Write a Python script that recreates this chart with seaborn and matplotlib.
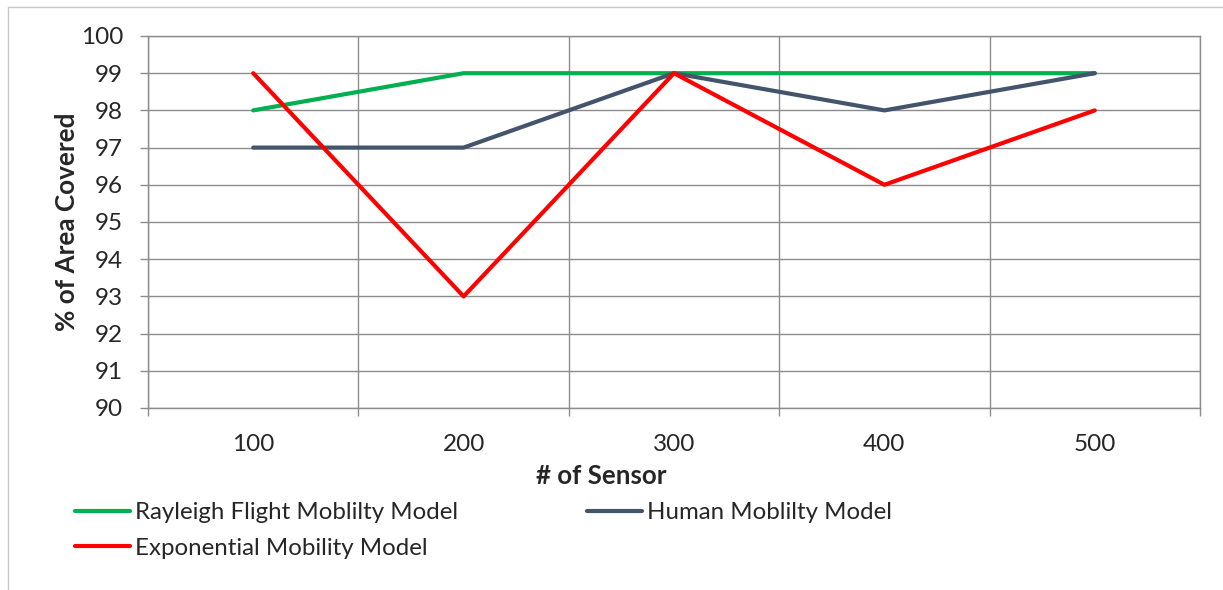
import matplotlib
matplotlib.use("Agg")
import matplotlib.pyplot as plt
import seaborn as sns
import pandas as pd
from matplotlib.lines import Line2D

sensors = [100, 200, 300, 400, 500]
rayleigh = [98, 99, 99, 99, 99]
human = [97, 97, 99, 98, 99]
exponential = [99, 93, 99, 96, 98]
series_names = ["Rayleigh Flight Moblilty Model", "Human Moblilty Model", "Exponential Mobility Model"]
colors = ["#00B050", "#44546A", "#FF0000"]

sns.set_theme(style="white")
plt.rcParams['font.family'] = ['Lato', 'DejaVu Sans']

df = pd.DataFrame({
    "sensor": sensors * 3,
    "value": rayleigh + human + exponential,
    "series": [series_names[0]] * 5 + [series_names[1]] * 5 + [series_names[2]] * 5,
})

W, H = 1223, 590
PX = 72 / 100  # points per pixel
fig = plt.figure(figsize=(W / 100, H / 100), dpi=100)
ax = fig.add_axes([148 / W, 1 - 408 / H, (1200 - 148) / W, (408 - 36) / H])

sns.lineplot(data=df, x="sensor", y="value", hue="series", palette=dict(zip(series_names, colors)),
             linewidth=3, ax=ax, legend=False, zorder=3)

grid_c = "#8C8C8C"
ax.set_xlim(50, 550)
ax.set_ylim(90, 100)
ax.set_yticks(range(90, 101))
ax.set_xticks(sensors)
ax.set_xticks([50, 150, 250, 350, 450, 550], minor=True)
ax.set_xticklabels([str(s) for s in sensors], fontsize=17.5)
ax.tick_params(axis="x", which="major", length=0, pad=26 * PX)
ax.tick_params(axis="x", which="minor", length=8 * PX, color=grid_c, width=1, direction="out", bottom=True)
ax.tick_params(axis="y", length=8 * PX, color=grid_c, width=1, direction="out", left=True,
               labelsize=17.5, pad=17 * PX)
ax.grid(axis="y", color=grid_c, linewidth=1)
ax.grid(axis="x", which="minor", color=grid_c, linewidth=1)
ax.grid(axis="x", which="major", visible=False)
for s in ax.spines.values():
    s.set_color(grid_c)
    s.set_linewidth(1)

ax.set_xlabel("# of Sensor", fontsize=18.6, fontweight="bold")
ax.set_ylabel("% of Area Covered", fontsize=18.8, fontweight="bold")
ax.xaxis.set_label_coords((601 - 148) / (1200 - 148), -(476 - 408) / (408 - 36))
ax.yaxis.set_label_coords(-(148 - 67) / (1200 - 148), 0.5)
ax.xaxis.label.set_va("center")
ax.yaxis.label.set_va("center")

handles = [Line2D([], [], color=c, linewidth=3) for c in colors]
order = [0, 2, 1]
fig.legend([handles[i] for i in order], [series_names[i] for i in order],
           loc="upper left", bbox_to_anchor=(75 / W, 1 - 502 / H), ncol=2, frameon=False,
           fontsize=17.3, handlelength=2.29, handletextpad=0.2, columnspacing=5.37,
           labelspacing=0.62, borderaxespad=0, borderpad=0)

border_c = "#C8C8C8"
fig.add_artist(Line2D([8 / W, 1], [1 - 7 / H, 1 - 7 / H], color=border_c, linewidth=1, transform=fig.transFigure))
fig.add_artist(Line2D([8 / W, 8 / W], [0, 1 - 7 / H], color=border_c, linewidth=1, transform=fig.transFigure))

fig.savefig("out.png", dpi=100)
